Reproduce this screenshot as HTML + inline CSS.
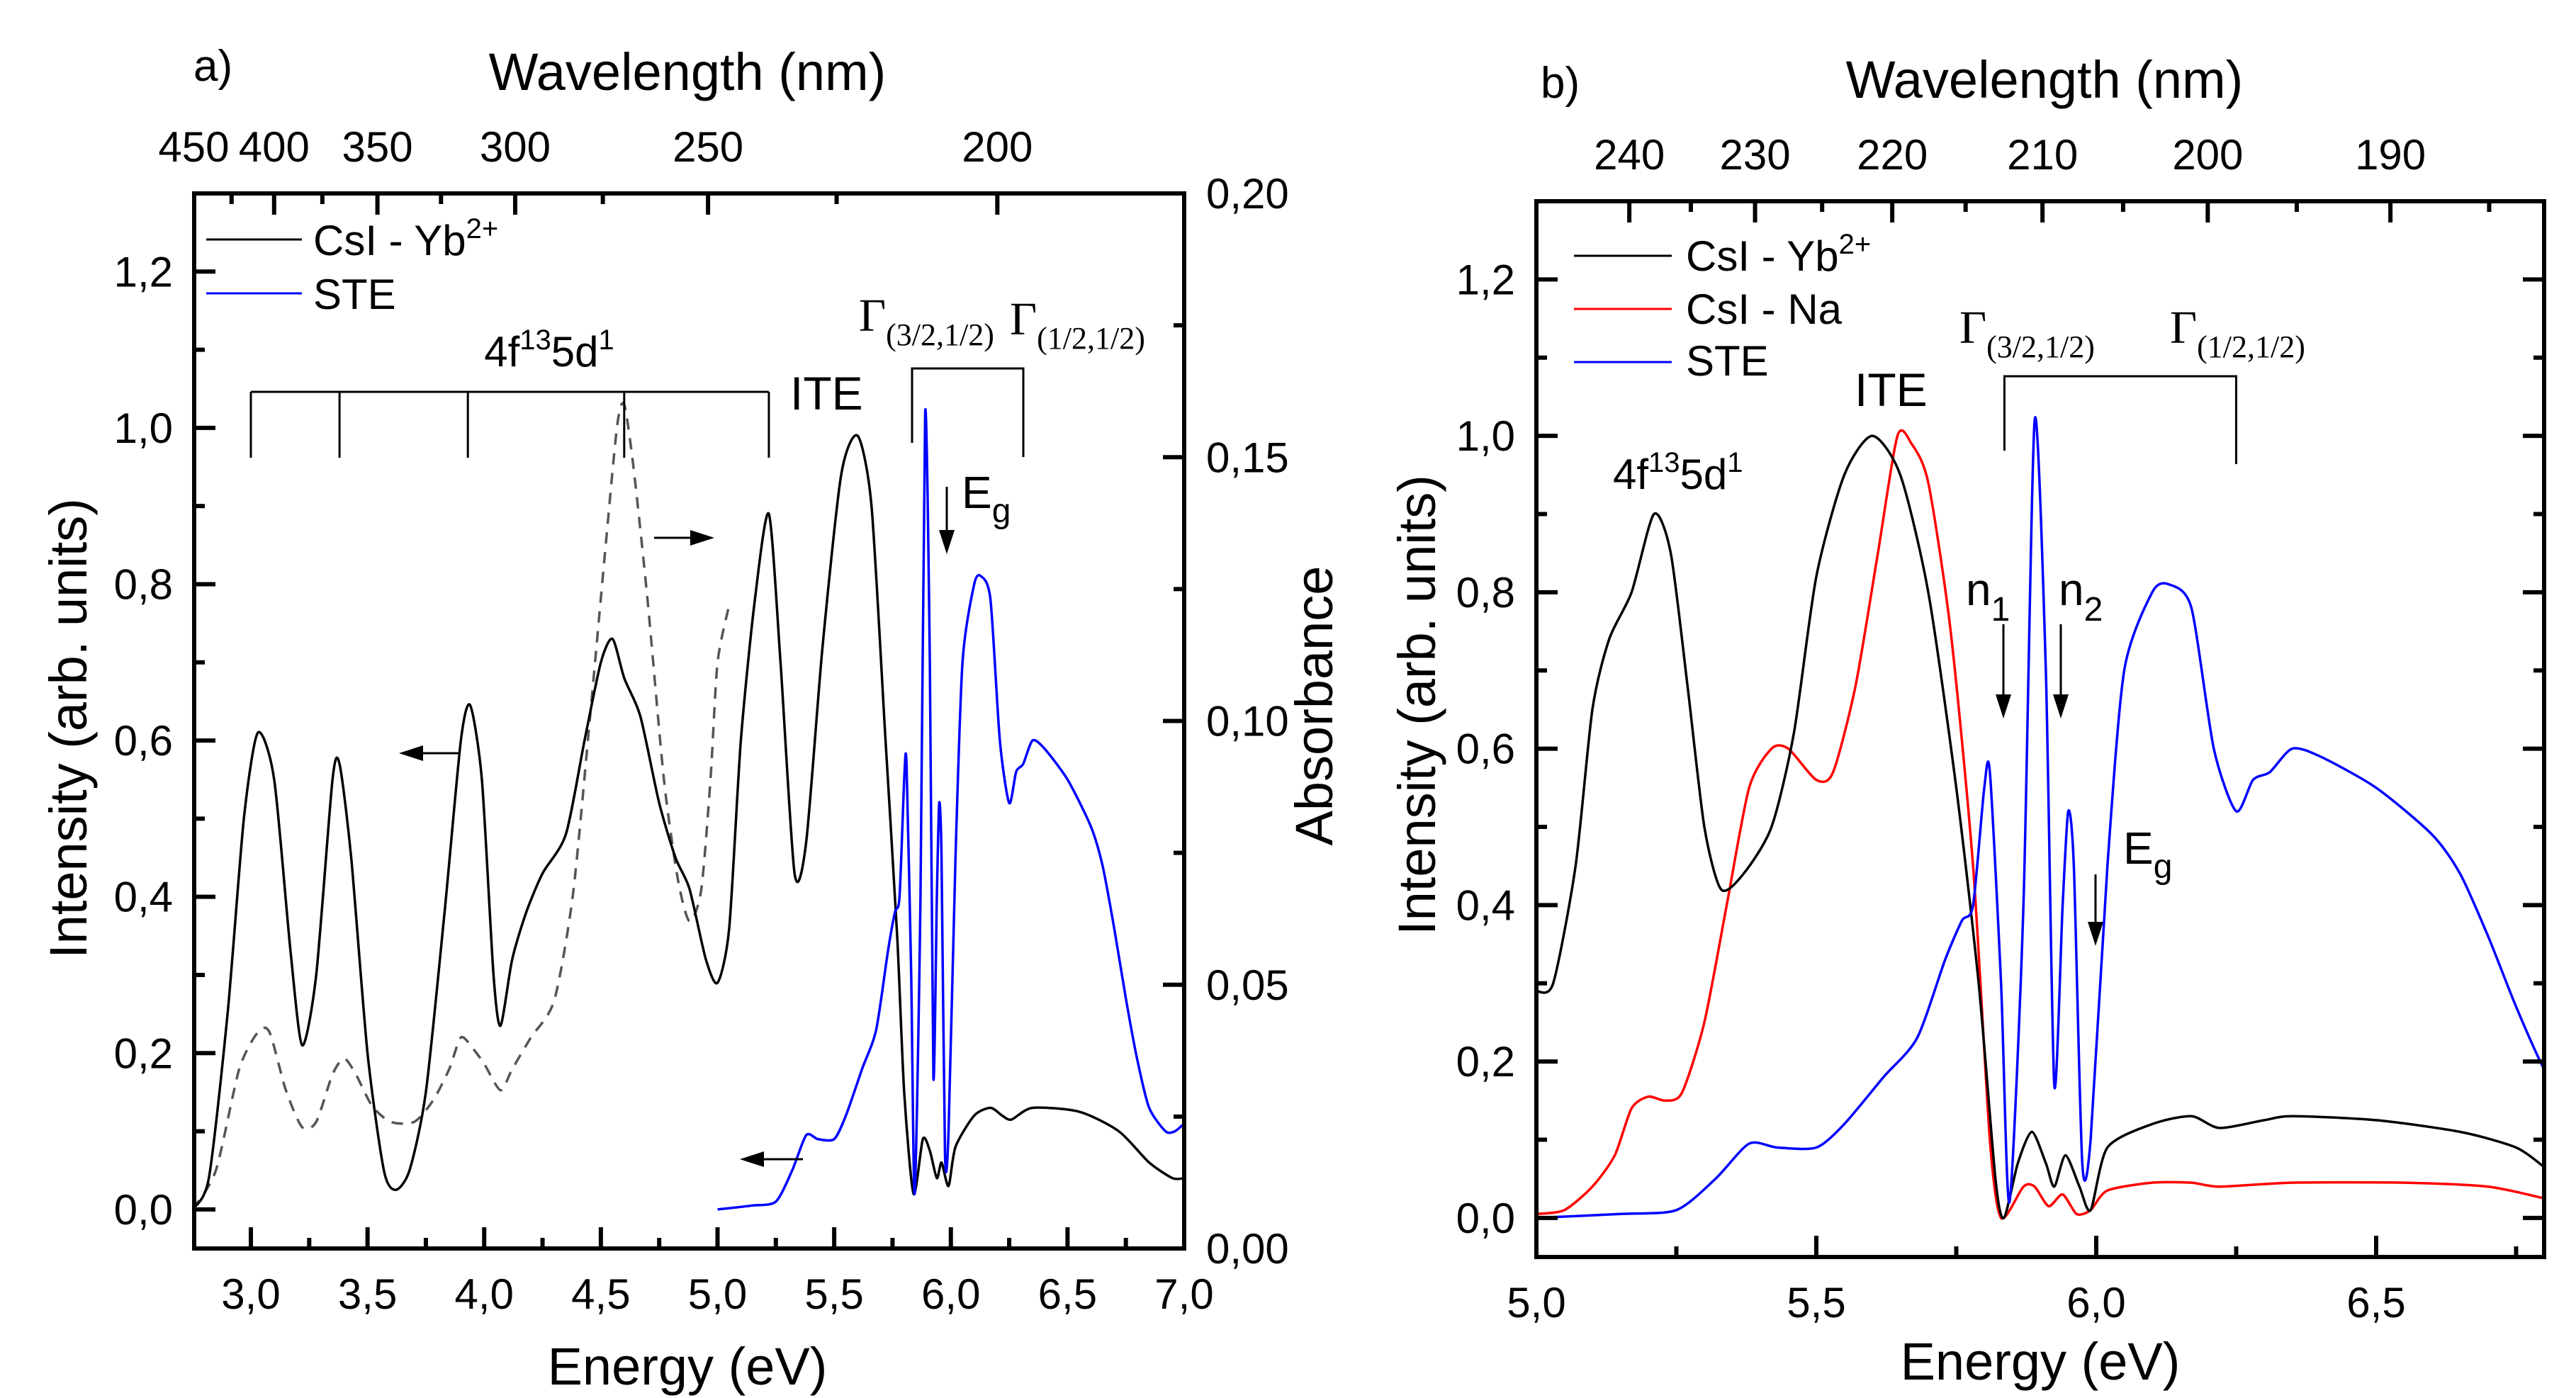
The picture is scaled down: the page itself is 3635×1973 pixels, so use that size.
<!DOCTYPE html>
<html><head><meta charset="utf-8"><style>
html,body{margin:0;padding:0;background:#fff;}
svg{display:block;font-family:"Liberation Sans",Arial,sans-serif;}
.serif{font-family:"Liberation Serif","Times New Roman",serif;}
</style></head><body>
<svg id="fig" width="3635" height="1973" viewBox="0 0 3635 1973" xmlns="http://www.w3.org/2000/svg"></svg>
<script>
// ---------- Panel a data ----------
const aYbE = [2.75,2.82,2.90,2.97,3.03,3.10,3.17,3.22,3.28,3.35,3.38,3.43,3.50,3.57,3.62,3.68,3.75,3.83,3.90,3.94,3.99,4.04,4.07,4.12,4.18,4.25,4.35,4.43,4.50,4.55,4.60,4.67,4.75,4.82,4.88,4.95,5.00,5.05,5.10,5.16,5.22,5.27,5.33,5.38,5.45,5.53,5.60,5.66,5.72,5.77,5.80,5.84,5.88,5.91,5.94,5.96,5.99,6.02,6.10,6.17,6.22,6.26,6.35,6.55,6.72,6.85,6.95,7.00];
const aYbI = [0.00,0.04,0.25,0.50,0.61,0.55,0.33,0.21,0.30,0.55,0.57,0.45,0.20,0.05,0.025,0.05,0.15,0.38,0.60,0.645,0.55,0.30,0.235,0.32,0.38,0.43,0.48,0.60,0.70,0.73,0.68,0.63,0.52,0.45,0.41,0.32,0.29,0.36,0.60,0.78,0.89,0.70,0.43,0.47,0.72,0.94,0.99,0.90,0.60,0.35,0.15,0.02,0.09,0.075,0.04,0.06,0.03,0.08,0.12,0.13,0.12,0.115,0.13,0.125,0.10,0.06,0.04,0.04];
const absE = [2.75,2.85,2.95,3.03,3.08,3.15,3.22,3.28,3.35,3.40,3.45,3.52,3.60,3.70,3.78,3.85,3.90,3.95,4.00,4.07,4.12,4.20,4.30,4.38,4.45,4.52,4.57,4.60,4.64,4.70,4.77,4.83,4.88,4.93,4.97,5.00,5.05];
const absA = [0.0074,0.0148,0.034,0.041,0.041,0.030,0.023,0.024,0.033,0.036,0.033,0.027,0.024,0.024,0.028,0.034,0.040,0.038,0.035,0.030,0.034,0.040,0.047,0.067,0.099,0.133,0.156,0.160,0.148,0.123,0.089,0.070,0.062,0.068,0.089,0.111,0.122];
// ---------- STE (both panels) ----------
const steE = [5.00,5.15,5.25,5.32,5.38,5.43,5.50,5.55,5.62,5.68,5.73,5.76,5.78,5.80,5.81,5.83,5.845,5.87,5.89,5.91,5.925,5.94,5.95,5.96,5.975,5.99,6.02,6.05,6.10,6.13,6.17,6.21,6.25,6.28,6.31,6.35,6.40,6.50,6.60,6.65,6.70,6.75,6.80,6.85,6.92,6.96,7.00];
const steI = [0.00,0.005,0.01,0.05,0.095,0.09,0.09,0.12,0.18,0.23,0.33,0.38,0.40,0.55,0.57,0.30,0.02,0.40,1.02,0.70,0.17,0.40,0.52,0.45,0.07,0.10,0.45,0.70,0.80,0.81,0.78,0.60,0.52,0.56,0.57,0.60,0.59,0.55,0.49,0.44,0.36,0.27,0.19,0.13,0.10,0.10,0.11];
// ---------- Panel b data ----------
const bYbE = [5.00,5.03,5.07,5.10,5.13,5.17,5.21,5.24,5.27,5.30,5.33,5.37,5.42,5.46,5.50,5.55,5.60,5.65,5.70,5.75,5.79,5.82,5.835,5.86,5.885,5.91,5.925,5.945,5.97,5.99,6.02,6.10,6.17,6.22,6.30,6.35,6.50,6.65,6.75,6.80];
const bYbI = [0.29,0.30,0.45,0.65,0.74,0.80,0.90,0.85,0.68,0.50,0.42,0.44,0.50,0.62,0.82,0.95,1.00,0.95,0.80,0.55,0.30,0.05,0.00,0.07,0.11,0.07,0.04,0.08,0.04,0.01,0.09,0.12,0.13,0.115,0.125,0.13,0.125,0.11,0.09,0.065];
const naE = [5.00,5.05,5.10,5.14,5.17,5.20,5.23,5.26,5.30,5.34,5.38,5.42,5.45,5.50,5.53,5.57,5.61,5.645,5.67,5.70,5.74,5.78,5.81,5.83,5.87,5.89,5.915,5.94,5.965,5.99,6.02,6.10,6.17,6.22,6.35,6.55,6.70,6.80];
const naI = [0.005,0.01,0.04,0.08,0.14,0.155,0.15,0.16,0.25,0.40,0.55,0.60,0.60,0.56,0.57,0.68,0.85,1.00,0.99,0.94,0.75,0.45,0.10,0.00,0.04,0.04,0.015,0.03,0.005,0.01,0.035,0.045,0.045,0.04,0.045,0.045,0.04,0.025];
// ---------- ticks ----------
const yTickVals = [0,0.2,0.4,0.6,0.8,1.0,1.2];
const yTickLabels = ["0,0","0,2","0,4","0,6","0,8","1,0","1,2"];
const aXTickVals = [3.0,3.5,4.0,4.5,5.0,5.5,6.0,6.5,7.0];
const aXTickLabels = ["3,0","3,5","4,0","4,5","5,0","5,5","6,0","6,5","7,0"];
const absTickVals = [0,0.05,0.10,0.15,0.20];
const absTickLabels = ["0,00","0,05","0,10","0,15","0,20"];
const aWlVals = [450,400,350,300,250,200];
const aWlLabels = ["450","400","350","300","250","200"];
const bXTickVals = [5.0,5.5,6.0,6.5];
const bXTickLabels = ["5,0","5,5","6,0","6,5"];
const bWlVals = [240,230,220,210,200,190];
const bWlLabels = ["240","230","220","210","200","190"];

const NS="http://www.w3.org/2000/svg";
const svg=document.getElementById('fig');
function mk(tag,attrs,parent){const e=document.createElementNS(NS,tag);for(const k in attrs)e.setAttribute(k,attrs[k]);(parent||svg).appendChild(e);return e;}
function txt(s,x,y,size,anchor,parent,cls){const t=mk('text',{x:x,y:y,'font-size':size,'text-anchor':anchor||'start',fill:'#000'},parent);if(cls)t.setAttribute('class',cls);t.textContent=s;return t;}
const defs=mk('defs',{});

function smoothPath(pts){
  if(pts.length<2)return '';
  let d='M'+pts[0][0].toFixed(1)+','+pts[0][1].toFixed(1);
  const k=1/8;
  for(let i=0;i<pts.length-1;i++){
    const p0=pts[Math.max(0,i-1)],p1=pts[i],p2=pts[i+1],p3=pts[Math.min(pts.length-1,i+2)];
    const c1x=p1[0]+(p2[0]-p0[0])*k,c1y=p1[1]+(p2[1]-p0[1])*k;
    const c2x=p2[0]-(p3[0]-p1[0])*k,c2y=p2[1]-(p3[1]-p1[1])*k;
    d+=`C${c1x.toFixed(1)},${c1y.toFixed(1)} ${c2x.toFixed(1)},${c2y.toFixed(1)} ${p2[0].toFixed(1)},${p2[1].toFixed(1)}`;
  }
  return d;
}

function makePanel(P){
  const g=mk('g',{});
  
  
  const cp=mk('clipPath',{id:'clip-'+P.name},defs);
  mk('rect',{x:P.L,y:P.T,width:P.R-P.L,height:P.B-P.T},cp);
  const dg=mk('g',{'clip-path':'url(#clip-'+P.name+')'},g);
  const sx=e=>P.L+(e-P.e0)/(P.e1-P.e0)*(P.R-P.L);
  const sy=v=>P.B-(v+0.05)/1.35*(P.B-P.T);
  const sa=a=>P.B-a/0.2*(P.B-P.T);
  function line(xs,ys,color,scale,name,dash){
    const pts=[];for(let i=0;i<xs.length;i++){pts.push([sx(xs[i]),scale(ys[i])]);}
    const p=mk('path',{d:smoothPath(pts),fill:'none',stroke:color,'stroke-width':3.5,'stroke-linejoin':'round'},dg);
    if(dash)p.setAttribute('stroke-dasharray',dash);
    
    
  }
  P.series(line,sy,sa);
  const fr=mk('rect',{x:P.L,y:P.T,width:P.R-P.L,height:P.B-P.T,fill:'none',stroke:'#000','stroke-width':6},g);
  
  
  const tk=mk('g',{stroke:'#000','stroke-width':6},g);
  
  
  for(let v=0;v<=1.21;v+=0.1){const major=Math.abs(v*5-Math.round(v*5))<1e-6;const l=major?30:15;const y=sy(v);
    mk('line',{x1:P.L,y1:y,x2:P.L+l,y2:y},tk);
    if(!P.absAxis)mk('line',{x1:P.R,y1:y,x2:P.R-l,y2:y},tk);}
  yTickVals.forEach((v,i)=>{const t=txt(yTickLabels[i],P.L-30,sy(v)+21,60,'end',g);
    
    });
  for(let e=Math.ceil(P.e0*4)/4;e<=P.e1+1e-6;e+=0.25){const major=Math.abs(e*2-Math.round(e*2))<1e-6;const l=major?30:15;const x=sx(e);
    mk('line',{x1:x,y1:P.B,x2:x,y2:P.B-l},tk);}
  P.xv.forEach((v,i)=>{const t=txt(P.xl[i],sx(v),P.B+85,60,'middle',g);
    
    });
  for(let w=P.wlMin;w<=P.wlMax;w+=P.wlMinor){const e=1239.84/w;if(e<P.e0-1e-6||e>P.e1)continue;const major=P.wv.indexOf(w)>=0;const l=major?30:15;
    mk('line',{x1:sx(e),y1:P.T,x2:sx(e),y2:P.T+l},tk);}
  P.wv.forEach((w,i)=>{const t=txt(P.wl[i],sx(1239.84/w),P.wlY,60,'middle',g);
    
    });
  if(P.absAxis){
    for(let a=0;a<=0.2001;a+=0.025){const major=Math.abs(a*20-Math.round(a*20))<1e-6;const l=major?30:15;mk('line',{x1:P.R,y1:sa(a),x2:P.R-l,y2:sa(a)},tk);}
    absTickVals.forEach((a,i)=>{const t=txt(absTickLabels[i],P.R+31,sa(a)+21,60,'start',g);
      
      });
  }
  return {g,sx,sy,sa};
}

const A=makePanel({name:'panel-a',L:274,R:1671,T:273,B:1762,e0:2.757,e1:7.0,xv:aXTickVals,xl:aXTickLabels,wv:aWlVals,wl:aWlLabels,wlMin:200,wlMax:450,wlMinor:25,wlY:228,absAxis:true,
  series:(line,sy,sa)=>{line(absE,absA,'#555',sa,'absorbance-dashed-line','16,12');line(aYbE,aYbI,'#000',sy,'csi-yb-line-a');line(steE,steI,'#0000ff',sy,'ste-line-a');}});
const Bp=makePanel({name:'panel-b',L:2168,R:3590,T:284,B:1774,e0:5.0,e1:6.8,xv:bXTickVals,xl:bXTickLabels,wv:bWlVals,wl:bWlLabels,wlMin:185,wlMax:240,wlMinor:5,wlY:239,absAxis:false,
  series:(line,sy)=>{line(naE,naI,'#ff0000',sy,'csi-na-line');line(bYbE,bYbI,'#000',sy,'csi-yb-line-b');line(steE,steI,'#0000ff',sy,'ste-line-b');}});

function named(el,n){return el;}
function richText(parts,x,y,size,anchor,cls,name){
  const t=mk('text',{x:x,y:y,'font-size':size,'text-anchor':anchor||'start',fill:'#000'});
  if(cls)t.setAttribute('class',cls);
  parts.forEach(p=>{const s=mk('tspan',{},t);if(p[1]){s.setAttribute('font-size',p[2]||size*0.7);s.setAttribute('dy',p[1]);}s.textContent=p[0];});
  named(t,name);return t;
}
function arrow(x1,y1,x2,y2,name){
  const g=mk('g',{});named(g,name);
  const dx=x2-x1,dy=y2-y1,L=Math.hypot(dx,dy),ux=dx/L,uy=dy/L,h=34,w=11;
  mk('line',{x1:x1,y1:y1,x2:x2-ux*h*0.8,y2:y2-uy*h*0.8,stroke:'#000','stroke-width':3},g);
  mk('polygon',{points:`${x2},${y2} ${x2-ux*h-uy*w},${y2-uy*h+ux*w} ${x2-ux*h+uy*w},${y2-uy*h-ux*w}`,fill:'#000'},g);
}
function path(d,name,w){named(mk('path',{d:d,fill:'none',stroke:'#000','stroke-width':w||3}),name);}

named(txt('a)',273,114,62,'start'),'panel-a-label');
named(txt('Wavelength (nm)',970,127,74,'middle'),'top-axis-title-a');
named(txt('Energy (eV)',970,1954,74,'middle'),'x-axis-title-a');
named(mk('text',{x:0,y:0,'font-size':74,'text-anchor':'middle',transform:'translate(122,1028) rotate(-90)'}),'y-axis-title-a').textContent='Intensity (arb. units)';
named(mk('text',{x:0,y:0,'font-size':74,'text-anchor':'middle',transform:'translate(1880,996) rotate(-90)'}),'right-axis-title-a').textContent='Absorbance';
named(mk('line',{x1:291,y1:338,x2:426,y2:338,stroke:'#000','stroke-width':3}),'legend-line-yb-a');
richText([['CsI - Yb'],['2+','-24',40]],442,360,60,'start',null,'legend-entry-yb-a');
named(mk('line',{x1:291,y1:414,x2:426,y2:414,stroke:'#0000ff','stroke-width':3}),'legend-line-ste-a');
named(txt('STE',442,436,60,'start'),'legend-entry-ste-a');
richText([['4f'],['13','-24',40],['5d','24',60],['1','-24',40]],775,517,60,'middle',null,'label-4f5d-a');
{const xs=[3.0,3.38,3.93,4.6,5.22].map(A.sx);let d=`M${xs[0]},553 L${xs[4]},553`;xs.forEach(x=>d+=` M${x},553 L${x},646`);path(d,'bracket-4f5d-a');}
named(txt('ITE',1115,578,66,'start'),'label-ite-a');
richText([['Γ'],['(3/2,1/2)','20',44]],1212,467,66,'start','serif','label-gamma32-a');
richText([['Γ'],['(1/2,1/2)','20',44]],1425,472,66,'start','serif','label-gamma12-a');
path('M1287,625 L1287,520 L1444,520 L1444,645','bracket-gamma-a');
arrow(1336,687,1336,782,'eg-arrow-a');
richText([['E'],['g','20',48]],1357,717,64,'start',null,'label-eg-a');
arrow(923,759,1008,759,'arrow-right-absorbance');
arrow(648,1063,563,1063,'arrow-left-intensity-1');
arrow(1133,1636,1044,1636,'arrow-left-intensity-2');

named(txt('b)',2174,138,62,'start'),'panel-b-label');
named(txt('Wavelength (nm)',2885,138,74,'middle'),'top-axis-title-b');
named(txt('Energy (eV)',2879,1947,74,'middle'),'x-axis-title-b');
named(mk('text',{x:0,y:0,'font-size':74,'text-anchor':'middle',transform:'translate(2025,995) rotate(-90)'}),'y-axis-title-b').textContent='Intensity (arb. units)';
named(mk('line',{x1:2221,y1:361,x2:2359,y2:361,stroke:'#000','stroke-width':3}),'legend-line-yb-b');
richText([['CsI - Yb'],['2+','-24',40]],2379,382,60,'start',null,'legend-entry-yb-b');
named(mk('line',{x1:2221,y1:436,x2:2359,y2:436,stroke:'#ff0000','stroke-width':3}),'legend-line-na-b');
named(txt('CsI - Na',2379,457,60,'start'),'legend-entry-na-b');
named(mk('line',{x1:2221,y1:511,x2:2359,y2:511,stroke:'#0000ff','stroke-width':3}),'legend-line-ste-b');
named(txt('STE',2379,530,60,'start'),'legend-entry-ste-b');
richText([['Γ'],['(3/2,1/2)','20',44]],2765,484,66,'start','serif','label-gamma32-b');
richText([['Γ'],['(1/2,1/2)','20',44]],3062,484,66,'start','serif','label-gamma12-b');
path(`M${Bp.sx(5.836)},636 L${Bp.sx(5.836)},531 L${Bp.sx(6.25)},531 L${Bp.sx(6.25)},655`,'bracket-gamma-b');
named(txt('ITE',2617,573,66,'start'),'label-ite-b');
richText([['4f'],['13','-24',40],['5d','24',60],['1','-24',40]],2276,690,60,'start',null,'label-4f5d-b');
richText([['n'],['1','22',48]],2774,854,64,'start',null,'label-n1');
richText([['n'],['2','22',48]],2905,854,64,'start',null,'label-n2');
arrow(2827,881,2827,1014,'n1-arrow');
arrow(2908,881,2908,1014,'n2-arrow');
richText([['E'],['g','20',48]],2996,1219,64,'start',null,'label-eg-b');
arrow(2957,1234,2957,1335,'eg-arrow-b');
</script>
</body></html>
